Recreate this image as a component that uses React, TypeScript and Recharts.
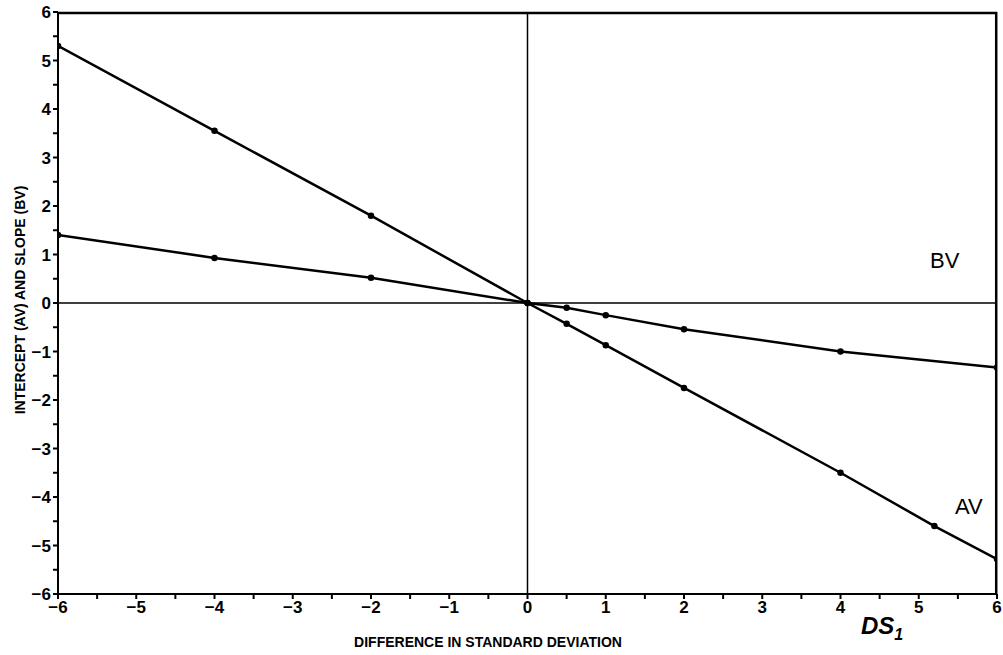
import React from "react";
import {
  LineChart,
  Line,
  XAxis,
  YAxis,
  ReferenceLine,
} from "recharts";

const xTicks = [-6, -5.5, -5, -4.5, -4, -3.5, -3, -2.5, -2, -1.5, -1, -0.5, 0, 0.5, 1, 1.5, 2, 2.5, 3, 3.5, 4, 4.5, 5, 5.5, 6];
const yTicks = [-6, -5.5, -5, -4.5, -4, -3.5, -3, -2.5, -2, -1.5, -1, -0.5, 0, 0.5, 1, 1.5, 2, 2.5, 3, 3.5, 4, 4.5, 5, 5.5, 6];

const avX = [-6, -4, -2, 0, 0.5, 1, 2, 4, 5.2, 6];
const avY = [5.3, 3.55, 1.8, 0, -0.43, -0.87, -1.75, -3.5, -4.6, -5.28];

const bvX = [-6, -4, -2, 0, 0.5, 1, 2, 4, 6];
const bvY = [1.4, 0.93, 0.52, 0, -0.1, -0.25, -0.54, -1.0, -1.33];

const avData = avX.map((x, i) => ({ x, y: avY[i] }));
const bvData = bvX.map((x, i) => ({ x, y: bvY[i] }));

const font = "'Liberation Sans', Arial, sans-serif";

const fmt = (v: number) => (Number.isInteger(v) ? (v < 0 ? "\u2212" + Math.abs(v) : String(v)) : "");

const App = () => {
  return (
    <div style={{ position: "absolute", left: 0, top: 0, width: 1003, height: 655, background: "#fff" }}>
      <LineChart
        width={1003}
        height={655}
        margin={{ top: 12, right: 6, bottom: 21, left: 0 }}
        style={{ fontFamily: font }}
      >
        <XAxis
          dataKey="x"
          type="number"
          domain={[-6, 6]}
          ticks={xTicks}
          tickFormatter={fmt}
          interval={0}
          stroke="#000"
          strokeWidth={2}
          tickSize={5}
          height={40}
          tick={{ fill: "#000", fontSize: 17, fontWeight: 700 }}
          allowDataOverflow
        />
        <YAxis
          type="number"
          domain={[-6, 6]}
          ticks={yTicks}
          tickFormatter={fmt}
          interval={0}
          stroke="#000"
          strokeWidth={2}
          tickSize={5}
          width={58}
          tick={{ fill: "#000", fontSize: 17, fontWeight: 700 }}
          allowDataOverflow
        />
        {/* frame: top and right edges, drawn just inside the plot */}
        <ReferenceLine y={5.98} stroke="#000" strokeWidth={2.5} />
        <ReferenceLine x={5.99} stroke="#000" strokeWidth={2.5} />
        <ReferenceLine x={0} stroke="#000" strokeWidth={1.5} />
        <ReferenceLine y={0} stroke="#000" strokeWidth={1.5} />
        <Line
          data={avData}
          dataKey="y"
          type="linear"
          stroke="#000"
          strokeWidth={2.5}
          dot={{ r: 2, fill: "#000", stroke: "#000" }}
          isAnimationActive={false}
        />
        <Line
          data={bvData}
          dataKey="y"
          type="linear"
          stroke="#000"
          strokeWidth={2.5}
          dot={{ r: 2, fill: "#000", stroke: "#000" }}
          isAnimationActive={false}
        />
        <text x={20} y={300} transform="rotate(-90 20 300)" textAnchor="middle" dominantBaseline="central" fontSize={14} fontWeight={700} fill="#000" fontFamily={font}>
          INTERCEPT (AV) AND SLOPE (BV)
        </text>
        <text x={488} y={642} textAnchor="middle" dominantBaseline="central" fontSize={14} fontWeight={700} fill="#000" fontFamily={font}>
          DIFFERENCE IN STANDARD DEVIATION
        </text>
        <text x={861} y={634} fontSize={24} fontStyle="italic" fontWeight={700} fill="#000" fontFamily={font}>
          DS<tspan fontSize={16} dy={6}>1</tspan>
        </text>
        <text x={930} y={268} fontSize={22} fill="#000" fontFamily={font}>BV</text>
        <text x={955} y={514} fontSize={22} fill="#000" fontFamily={font}>AV</text>
      </LineChart>
    </div>
  );
};

export default App;
